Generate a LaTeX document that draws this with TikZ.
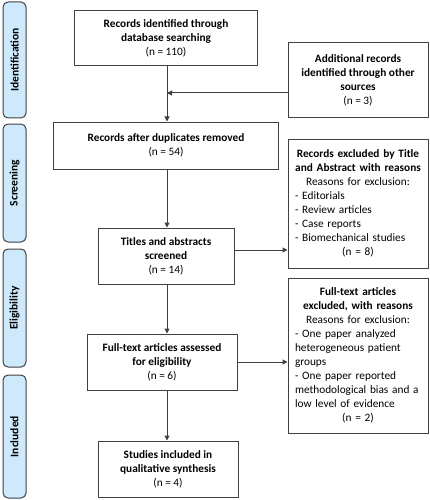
\documentclass[tikz,border=0pt]{standalone}
\usepackage{fontspec}
\setmainfont{Carlito}
\usetikzlibrary{arrows.meta,calc}
\definecolor{phaseblue}{RGB}{206,233,251}
\definecolor{linegray}{RGB}{64,64,64}
\hyphenpenalty=10000
\exhyphenpenalty=10000
\tikzset{
  box/.style={draw=linegray, line width=1pt, rectangle, align=center,
    inner sep=0pt, font=\fontsize{11.3}{14}\selectfont},
  sidebox/.style={draw=linegray, line width=1pt, rounded corners=5pt,
    fill=phaseblue, minimum width=23pt, inner sep=0pt},
  phaselabel/.style={rotate=90, font=\fontsize{11.5}{13}\selectfont\bfseries},
  flow/.style={draw=linegray, line width=1pt, -{Triangle[length=5pt,width=5pt]}}
}
\begin{document}
\begin{tikzpicture}[x=1pt,y=-1pt]
    \useasboundingbox (0,0) rectangle (430,500);

    % Fases
    \node[sidebox, minimum height=116pt] (phid) at (14.5,60) {};
    \node[phaselabel] at (phid) {Identification};
    \node[sidebox, minimum height=118pt] (phsc) at (14.5,183) {};
    \node[phaselabel] at (phsc) {Screening};
    \node[sidebox, minimum height=118pt] (phel) at (14.5,308) {};
    \node[phaselabel] at (phel) {Eligibility};
    \node[sidebox, minimum height=123pt] (phin) at (14.5,436.5) {};
    \node[phaselabel] at (phin) {Included};

    % Caixas principais
    \node[box, minimum width=183pt, minimum height=55pt] (ident) at (166,38.5)
        {\textbf{Records identified through}\\ \textbf{database searching}\\ (n = 110)};
    \node[box, minimum width=225pt, minimum height=47pt] (dup) at (166,145.5)
        {\textbf{Records after duplicates removed}\\ (n = 54)};
    \node[box, minimum width=136pt, minimum height=56pt] (screen) at (166,256)
        {\textbf{Titles and abstracts}\\ \textbf{screened}\\ (n = 14)};
    \node[box, minimum width=150pt, minimum height=56pt] (full) at (162,362)
        {\textbf{Full-text articles assessed}\\ \textbf{for eligibility}\\ (n = 6)};
    \node[box, minimum width=140pt, minimum height=56pt] (incl) at (168,469)
        {\textbf{Studies included in}\\ \textbf{qualitative synthesis}\\ (n = 4)};

    % Caixas laterais
    \node[box, minimum width=140pt, minimum height=75pt] (add) at (358,80.5)
        {\textbf{Additional records}\\ \textbf{identified through other}\\ \textbf{sources}\\ (n = 3)};
    \node[box, minimum width=140pt, minimum height=129pt, text width=126pt, align=left] (excla) at (358,203.5)
        {{\centering\textbf{Records excluded by Title}\\ \textbf{and Abstract with reasons}\\ Reasons for exclusion:\par}
         - Editorials\\ - Review articles\\ - Case reports\\ - Biomechanical studies\par
         {\centering (n = 8)\par}};
    \node[box, minimum width=140pt, minimum height=155pt, text width=126pt, align=left] (exclb) at (358,355.5)
        {{\centering\textbf{Full-text articles}\\ \textbf{excluded, with reasons}\\ Reasons for exclusion:\par}
         - One paper analyzed\\ heterogeneous patient\\ groups\\
         - One paper reported\\ methodological bias and a\\ low level of evidence\par
         {\centering (n = 2)\par}};

    % Setas
    \coordinate (join) at (167,93);
    \draw[flow] (ident.south -| join) -- (dup.north -| join);
    \draw[flow] (add.west |- join) -- (join);
    \draw[flow] (dup.south -| join) -- (screen.north -| join);
    \draw[flow] ([yshift=6pt]screen.east) -- ([yshift=6pt]screen.east -| excla.west);
    \draw[flow] (screen.south -| join) -- (full.north -| join);
    \draw[flow] (full.east) -- (full.east -| exclb.west);
    \draw[flow] (full.south -| join) -- (incl.north -| join);
\end{tikzpicture}
\end{document}
